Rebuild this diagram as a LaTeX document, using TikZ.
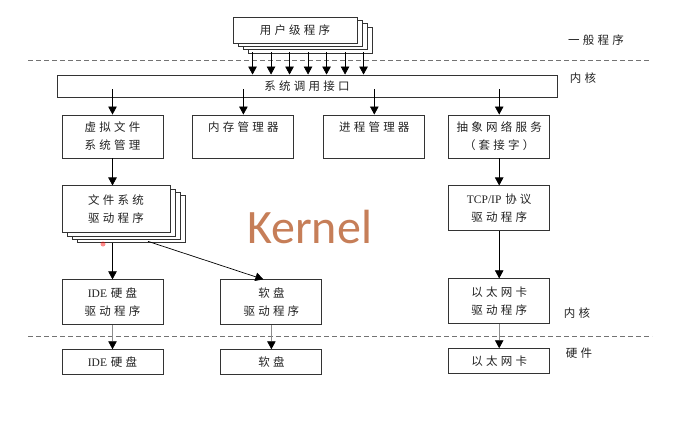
\documentclass[tikz,border=0pt]{standalone}
\usepackage{fontspec}
\setmainfont[LetterSpace=28]{Noto Sans CJK SC}
\newfontfamily\latin{Liberation Serif}
\newfontfamily\kernfont{Carlito}
\usetikzlibrary{positioning,shadows,arrows.meta}
\definecolor{kernelbrown}{RGB}{198,126,88}
\definecolor{textgray}{RGB}{35,35,35}

\begin{document}
\begin{tikzpicture}[x=1pt, y=-1pt, font=\fontsize{11.5}{18}\selectfont,
  box/.style={rectangle, draw=black!80, line width=0.9pt, fill=white, inner sep=0pt, text width=101pt, minimum height=44pt, text centered, text=textgray},
  stackbox/.style={box, copy shadow={shadow xshift=15pt, shadow yshift=-10pt}, copy shadow={shadow xshift=10pt, shadow yshift=-6.5pt}, copy shadow={shadow xshift=5pt, shadow yshift=-3.3pt}},
  line/.style={draw, line width=0.7pt, -{Triangle[width=8.5pt, length=8pt]}},
  greyline/.style={draw=black!45, line width=0.7pt, -{Triangle[width=8.5pt, length=8pt, color=black]}},
  sep/.style={draw=black!55, line width=0.8pt, dash pattern=on 5pt off 3pt},
  tag/.style={text=textgray, inner sep=0pt}]
\useasboundingbox (0,0) rectangle (680,421);

% user level and system call layer
\node [stackbox, text width=124pt, minimum height=26pt] (ULP) at (295,30) {用户级程序};
\node [box, text width=500pt, minimum height=22pt] (SCI) at (307,86) {系统调用接口};

% kernel subsystems
\node [box, minimum height=43pt] (VFS) at (112.5,136.5) {虚拟文件\\系统管理};
\node [box, minimum height=43pt, right=29pt of VFS] (MEM) {内存管理器\\\phantom{内}};
\node [box, minimum height=43pt, right=29pt of MEM] (PROC) {进程管理器\\\phantom{内}};
\node [box, minimum height=43pt, right=23pt of PROC] (SOCK) {抽象网络服务\\（套接字）};

\node [stackbox, text width=108pt, minimum height=47pt, below=27pt of VFS.south west, anchor=north west] (FSD) {文件系统\\驱动程序};
\node [box, minimum height=45pt, below=27pt of SOCK] (TCP) {{\latin TCP/IP} 协议\\驱动程序};

% device drivers
\node [box, minimum height=45pt, below=46pt of FSD.south west, anchor=north west] (IDED) {{\latin IDE} 硬盘\\驱动程序};
\node [box, minimum height=45pt, right=57pt of IDED] (FLOPD) {软盘\\驱动程序};
\node [box, minimum height=45pt, below=47pt of TCP] (ETHD) {以太网卡\\驱动程序};

% hardware
\node [box, minimum height=25pt, below=24pt of IDED] (IDE) {{\latin IDE} 硬盘};
\node [box, minimum height=25pt, below=24pt of FLOPD] (FLOP) {软盘};
\node [box, minimum height=25pt, below=24pt of ETHD] (ETH) {以太网卡};

% layer labels
\node [tag] (lapp) at (596,40) {一般程序};
\node [tag] (lker) at (583,78) {内核};
\node [tag] (lker2) at (577,313) {内核};
\node [tag] (lhw) at (579,353) {硬件};

\node [anchor=base west, inner sep=0pt, text=kernelbrown, font=\kernfont\fontsize{48}{48}\selectfont] (kern) at (247,243) {Kernel};

\draw [sep] (28,60) -- (650,60);
\draw [sep] (28,336) -- (652,336);

\foreach \i in {0,...,6}
  \coordinate (u\i) at ([xshift=20pt+18.5pt*\i, yshift=-9pt]ULP.south west);
\coordinate (fsdout) at ([xshift=32pt, yshift=-8pt]FSD.south);

\begin{scope}[every path/.style=line]
  \foreach \i in {0,...,6}
    \path (u\i) -- (u\i |- SCI.north);
  \path ([yshift=8pt]SCI.south -| VFS.north) -- (VFS.north);
  \path ([yshift=8pt]SCI.south -| MEM.north) -- (MEM.north);
  \path ([yshift=8pt]SCI.south -| PROC.north) -- (PROC.north);
  \path ([yshift=8pt]SCI.south -| SOCK.north) -- (SOCK.north);
  \path (VFS.south) -- (VFS.south |- FSD.north);
  \path (SOCK.south) -- (TCP.north);
  \path ([yshift=-10pt]FSD.south -| IDED.north) -- (IDED.north);
  \path (fsdout) -- ([xshift=-8pt]FLOPD.north);
  \path (TCP.south) -- (ETHD.north);
\end{scope}

\path [greyline] (IDED.south) -- (IDE.north);
\path [greyline] (FLOPD.south) -- (FLOP.north);
\path [greyline] (ETHD.south) -- (ETH.north);

\fill [red, opacity=0.45] (103,244) circle (2.5);
\end{tikzpicture}
\end{document}
